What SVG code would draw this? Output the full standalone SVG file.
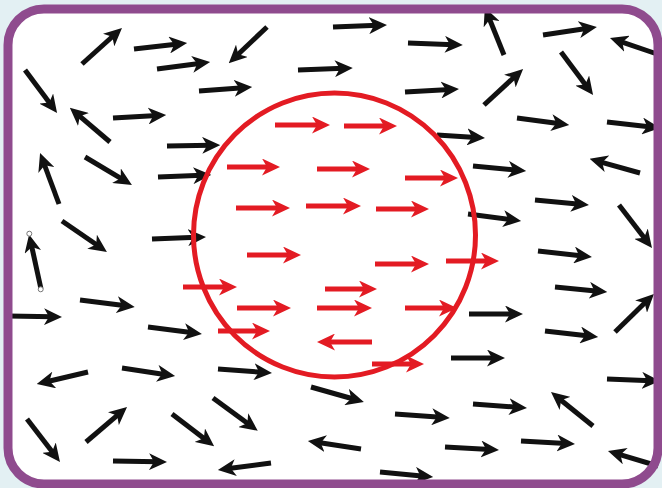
<svg xmlns="http://www.w3.org/2000/svg" width="662" height="488" viewBox="0 0 662 488">
<style>
.b{stroke:#111;stroke-width:5;fill:none;marker-end:url(#hb)}
.r{stroke:#e31b23;stroke-width:5;fill:none;marker-end:url(#hr)}
.h{fill:#fff;stroke:#777;stroke-width:1}
</style>
<defs>
<marker id="hb" markerUnits="userSpaceOnUse" viewBox="0 0 18 17" refX="9" refY="8.5" markerWidth="18" markerHeight="17" orient="auto"><path d="M0,0 L18,8.5 L0,17 L5,8.5 z" fill="#111"/></marker>
<marker id="hr" markerUnits="userSpaceOnUse" viewBox="0 0 18 17" refX="9" refY="8.5" markerWidth="18" markerHeight="17" orient="auto"><path d="M0,0 L18,8.5 L0,17 L5,8.5 z" fill="#e31b23"/></marker>
</defs>
<rect x="0" y="0" width="662" height="488" fill="#e3f0f3"/>
<rect x="8" y="9" width="650" height="475" rx="36" fill="#fff"/>
<g id="black-arrows">
<line class="b" x1="82" y1="64" x2="115.3" y2="34"/>
<line class="b" x1="134" y1="49" x2="178.2" y2="44"/>
<line class="b" x1="157" y1="69" x2="201.2" y2="63.2"/>
<line class="b" x1="25" y1="70" x2="51.7" y2="105.8"/>
<line class="b" x1="110" y1="142" x2="76.7" y2="113.7"/>
<line class="b" x1="113" y1="118" x2="157.2" y2="115.5"/>
<line class="b" x1="167" y1="146" x2="211.2" y2="145.2"/>
<line class="b" x1="199" y1="91" x2="243.2" y2="87.7"/>
<line class="b" x1="267" y1="27" x2="235.3" y2="57"/>
<line class="b" x1="333" y1="27" x2="378" y2="25.3"/>
<line class="b" x1="298" y1="70" x2="343.8" y2="68.3"/>
<line class="b" x1="408" y1="43" x2="453.8" y2="44.7"/>
<line class="b" x1="405" y1="92" x2="450" y2="89.5"/>
<line class="b" x1="437" y1="135" x2="476" y2="137.4"/>
<line class="b" x1="504" y1="55" x2="488.2" y2="15.8"/>
<line class="b" x1="543" y1="35" x2="588" y2="28.3"/>
<line class="b" x1="660" y1="55" x2="618.5" y2="40.9"/>
<line class="b" x1="561" y1="52" x2="587.7" y2="87.8"/>
<line class="b" x1="484" y1="105" x2="516.5" y2="75"/>
<line class="b" x1="517" y1="118" x2="560.3" y2="123.8"/>
<line class="b" x1="607" y1="122" x2="651.2" y2="127"/>
<line class="b" x1="640" y1="173" x2="598.3" y2="161.3"/>
<line class="b" x1="473" y1="166" x2="517.2" y2="170.2"/>
<line class="b" x1="59" y1="204" x2="43.2" y2="161.5"/>
<line class="b" x1="85" y1="157" x2="124.2" y2="180.3"/>
<line class="b" x1="158" y1="177" x2="202.2" y2="175.3"/>
<line class="b" x1="62" y1="221" x2="99.5" y2="246.8"/>
<line class="b" x1="41" y1="289" x2="31" y2="243.2"/>
<line class="b" x1="152" y1="239" x2="197" y2="237.3"/>
<line class="b" x1="80" y1="300" x2="125.8" y2="305.8"/>
<line class="b" x1="8" y1="316" x2="53" y2="316.8"/>
<line class="b" x1="535" y1="200" x2="580" y2="204.2"/>
<line class="b" x1="619" y1="205" x2="646.5" y2="240.8"/>
<line class="b" x1="468" y1="214" x2="512.2" y2="219.8"/>
<line class="b" x1="538" y1="251" x2="583" y2="256"/>
<line class="b" x1="555" y1="287" x2="598.3" y2="291.2"/>
<line class="b" x1="615" y1="332" x2="647.5" y2="300.3"/>
<line class="b" x1="469" y1="314" x2="514" y2="314"/>
<line class="b" x1="148" y1="327" x2="193" y2="332.8"/>
<line class="b" x1="88" y1="372" x2="45.5" y2="382"/>
<line class="b" x1="122" y1="368" x2="166.2" y2="374.7"/>
<line class="b" x1="27" y1="419" x2="54.5" y2="454.8"/>
<line class="b" x1="86" y1="442" x2="120.2" y2="412.8"/>
<line class="b" x1="172" y1="414" x2="207" y2="440.7"/>
<line class="b" x1="113" y1="461" x2="158" y2="461.8"/>
<line class="b" x1="218" y1="369" x2="263" y2="372.3"/>
<line class="b" x1="213" y1="398" x2="250.5" y2="425.5"/>
<line class="b" x1="271" y1="463" x2="226.8" y2="468.8"/>
<line class="b" x1="311" y1="387" x2="355.2" y2="399.5"/>
<line class="b" x1="395" y1="414" x2="440.8" y2="417.3"/>
<line class="b" x1="361" y1="449" x2="316.8" y2="442.3"/>
<line class="b" x1="380" y1="472" x2="424.2" y2="476.2"/>
<line class="b" x1="545" y1="331" x2="589.2" y2="336"/>
<line class="b" x1="451" y1="358" x2="496" y2="358"/>
<line class="b" x1="607" y1="379" x2="651" y2="380.7"/>
<line class="b" x1="473" y1="404" x2="518" y2="407.3"/>
<line class="b" x1="593" y1="426" x2="558" y2="397.7"/>
<line class="b" x1="445" y1="447" x2="490" y2="449.5"/>
<line class="b" x1="521" y1="441" x2="566" y2="443.5"/>
<line class="b" x1="658" y1="466" x2="616.6" y2="453.6"/>
</g>
<g id="handles">
<circle class="h" cx="29.3" cy="233.7" r="2.5"/>
<circle class="h" cx="40.7" cy="289.3" r="2.5"/>
</g>
<ellipse id="region" cx="334.5" cy="235" rx="141" ry="142" fill="none" stroke="#e31b23" stroke-width="5"/>
<g id="red-arrows">
<line class="r" x1="183" y1="287" x2="228" y2="287"/>
<line class="r" x1="275" y1="125" x2="321" y2="125"/>
<line class="r" x1="344" y1="126" x2="388" y2="126"/>
<line class="r" x1="227" y1="167" x2="271" y2="167"/>
<line class="r" x1="317" y1="169" x2="361" y2="169"/>
<line class="r" x1="405" y1="178" x2="449" y2="178"/>
<line class="r" x1="236" y1="208" x2="281" y2="208"/>
<line class="r" x1="306" y1="206" x2="352" y2="206"/>
<line class="r" x1="376" y1="209" x2="420" y2="209"/>
<line class="r" x1="247" y1="255" x2="292" y2="255"/>
<line class="r" x1="375" y1="264" x2="420" y2="264"/>
<line class="r" x1="446" y1="261" x2="490" y2="261"/>
<line class="r" x1="325" y1="289" x2="368" y2="289"/>
<line class="r" x1="237" y1="308" x2="282" y2="308"/>
<line class="r" x1="317" y1="308" x2="363" y2="308"/>
<line class="r" x1="405" y1="308" x2="448" y2="308"/>
<line class="r" x1="218" y1="331" x2="261" y2="331"/>
<line class="r" x1="372" y1="342" x2="326" y2="342"/>
<line class="r" x1="372" y1="364" x2="415" y2="364"/>
</g>
<rect id="frame" x="8" y="9" width="650" height="475" rx="36" fill="none" stroke="#8f4b8e" stroke-width="9"/>
</svg>
